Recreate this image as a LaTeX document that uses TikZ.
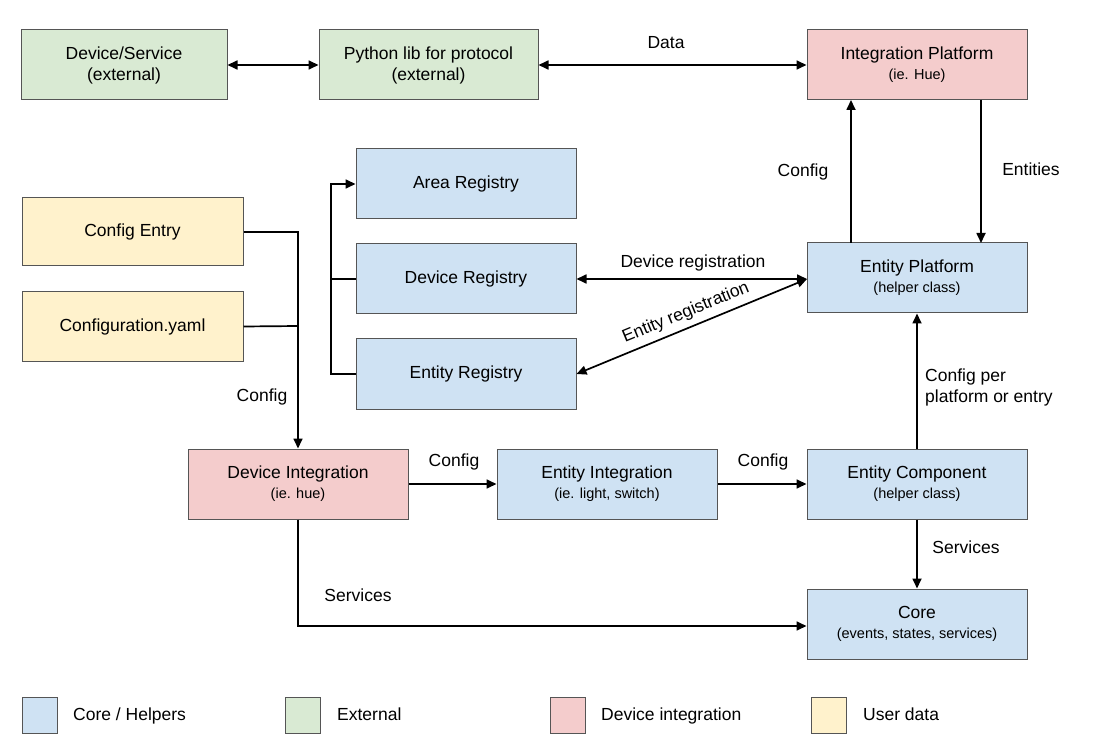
\documentclass[tikz,border=0pt]{standalone}
\usepackage{fontspec}
\setmainfont{Liberation Sans}
\usetikzlibrary{arrows.meta}
\definecolor{cblue}{HTML}{CFE2F3}
\definecolor{cgreen}{HTML}{D9EAD3}
\definecolor{cred}{HTML}{F4CCCC}
\definecolor{cyellow}{HTML}{FFF2CC}
\definecolor{cborder}{HTML}{555555}
\begin{document}
\begin{tikzpicture}[x=1pt,y=-1pt,
  box/.style={draw=cborder,line width=1pt,minimum width=220pt,minimum height=70pt,inner sep=0pt,align=center,font=\fontsize{17.5}{21}\selectfont},
  legbox/.style={draw=cborder,line width=1pt,minimum width=35pt,minimum height=36pt,inner sep=0pt},
  lbl/.style={font=\fontsize{17.5}{21}\selectfont,inner sep=1pt,text height=12.5pt,text depth=3.5pt},
  conn/.style={line width=1.7pt,-{Triangle[length=10pt,width=9pt]}},
  bconn/.style={line width=1.7pt,{Triangle[length=10pt,width=9pt]}-{Triangle[length=10pt,width=9pt]}},
  plain/.style={line width=1.7pt}
]
\useasboundingbox (0,0) rectangle (1114,743);
\newcommand{\subt}[1]{\\[-1pt]{\fontsize{14.5}{17}\selectfont #1}}
% top row
\node[box,fill=cgreen,minimum width=206pt] (dev) at (124,65) {Device/Service\\(external)};
\node[box,fill=cgreen,minimum width=219pt] (py) at (428.5,65) {Python lib for protocol\\(external)};
\node[box,fill=cred] (ip) at (917,65) {Integration Platform\subt{(ie. Hue)}};
% registries
\node[box,fill=cblue] (area) at (466,184) {Area Registry};
\node[box,fill=cblue] (devreg) at (466,279) {Device Registry};
\node[box,fill=cblue] (entreg) at (466,374) {Entity Registry};
% user data
\node[box,fill=cyellow,minimum width=221pt,minimum height=68pt] (ce) at (132.5,232) {Config Entry};
\node[box,fill=cyellow,minimum width=221pt,minimum height=69pt] (cy) at (132.5,326.5) {Configuration.yaml};
% platform
\node[box,fill=cblue] (ep) at (917,278) {Entity Platform\subt{(helper class)}};
% lower row
\node[box,fill=cred] (di) at (298,484) {Device Integration\subt{(ie. hue)}};
\node[box,fill=cblue] (ei) at (607,484) {Entity Integration\subt{(ie. light, switch)}};
\node[box,fill=cblue] (ec) at (917,484) {Entity Component\subt{(helper class)}};
\node[box,fill=cblue] (core) at (917,624) {Core\subt{(events, states, services)}};
% connectors top
\draw[bconn] (dev) -- (py);
\draw[bconn] (py) -- (ip);
\node[lbl] (ldata) at (666,44) {Data};
\coordinate (epc) at (851,243);
\coordinate (ipc) at (851,100);
\draw[conn] (epc) -- (ipc);
\node[lbl] (lcfg1) at (803,172) {Config};
\coordinate (ipe) at (981,100);
\coordinate (epe) at (981,243);
\draw[conn] (ipe) -- (epe);
\node[lbl] (lent) at (1031,171) {Entities};
% registries bus
\coordinate (busT) at (331,184);
\coordinate (busM) at (331,279);
\coordinate (busB) at (331,374);
\draw[conn] (entreg.west) -- (busB) -- (busT) -- (area.west);
\draw[plain] (devreg.west) -- (busM);
% registrations
\coordinate (epw) at (807,279);
\draw[bconn] (devreg.east) -- (epw);
\node[lbl] (ldr) at (693,263) {Device registration};
\draw[bconn] (entreg.east) -- (epw);
\node[lbl,rotate=22.4] (ler) at (686,313) {Entity registration};
% config inputs
\coordinate (j1) at (298,232);
\coordinate (j2) at (298,326);
\draw[plain] (ce.east) -- (j1) -- (j2);
\draw[conn] (cy.east) -- (j2) -- (di.north);
\node[lbl] (lcfg2) at (262,397) {Config};
% lower row connectors
\draw[conn] (di) -- (ei);
\node[lbl] (lcfg3) at (454,462) {Config};
\draw[conn] (ei) -- (ec);
\node[lbl] (lcfg4) at (763,462) {Config};
\draw[conn] (ec) -- (ep);
\node[lbl,align=left,anchor=west,text height=,text depth=] (lcpp) at (924,387) {Config per\\platform or entry};
\draw[conn] (ec) -- (core);
\node[lbl] (lsv1) at (966,549) {Services};
\coordinate (dib) at (298,626);
\draw[conn] (di.south) -- (dib) -- (core.west |- dib);
\node[lbl] (lsv2) at (358,597) {Services};
% legend
\node[legbox,fill=cblue] (lg1) at (39.5,715) {};
\node[lbl,anchor=west] (lt1) at (72,716) {Core / Helpers};
\node[legbox,fill=cgreen] (lg2) at (303,715) {};
\node[lbl,anchor=west] (lt2) at (336,716) {External};
\node[legbox,fill=cred] (lg3) at (567.5,715) {};
\node[lbl,anchor=west] (lt3) at (600,716) {Device integration};
\node[legbox,fill=cyellow] (lg4) at (829,715) {};
\node[lbl,anchor=west] (lt4) at (862,716) {User data};
\end{tikzpicture}
\end{document}
